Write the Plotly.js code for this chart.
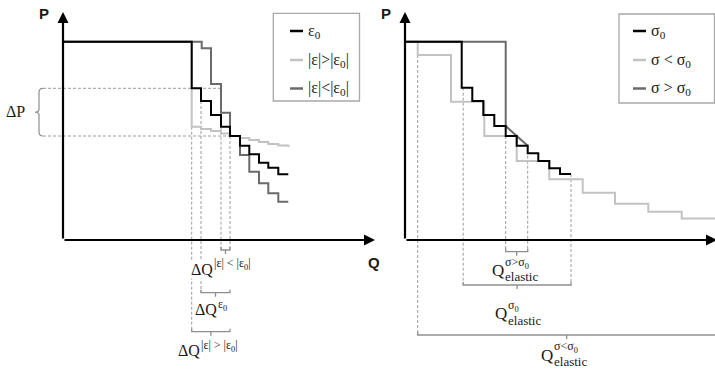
<!DOCTYPE html>
<html><head><meta charset="utf-8">
<script src="https://cdn.plot.ly/plotly-3.0.1.min.js"></script>
<style>html,body{margin:0;padding:0;background:#fff;}#chart{width:715px;height:369px;}</style>
</head><body><div id="chart"></div>
<script>
// ---------- Data (schematic units: Q along x, P along y) ----------
// Left panel: strain
const legendLeft = ['ε<sub>0</sub>', '|ε|&gt;|ε<sub>0</sub>|', '|ε|&lt;|ε<sub>0</sub>|'];
const qEps0    = [0, 128.7, 138, 148, 158, 167, 177, 186.3, 196, 205.3, 215.3, 225.3];
const pEps0    = [198.3, 151.7, 139, 125, 113.3, 104, 94.3, 85.7, 77.3, 72.3, 65.7, 65.7];
const qEpsHigh = [0, 128.7, 138, 148, 158, 167, 177, 186.3, 196, 205.3, 215.3, 225.3];
const pEpsHigh = [198.3, 113.3, 111, 109, 106.5, 104, 102, 100, 98, 96, 94.5, 93];
const qEpsLow  = [0, 138.7, 148, 158, 167, 177, 186.3, 196, 205.3, 215.3, 225.3];
const pEpsLow  = [198.3, 191.7, 156, 127.3, 104, 85, 68.3, 56.7, 46.7, 38.3, 38.3];

// Right panel: stress
const legendRight = ['σ<sub>0</sub>', 'σ &lt; σ<sub>0</sub>', 'σ &gt; σ<sub>0</sub>'];
const qSig0    = [0, 56.7, 67.3, 78.3, 89.3, 100.7, 111.7, 122.7, 133.3, 144.3, 155, 166];
const pSig0    = [198.3, 152.3, 139, 125, 114, 104, 94.3, 86.7, 79, 71.7, 66, 66];
const qSigLow  = [0, 12.7, 46, 79.3, 111.7, 144.3, 177.7, 210, 243.3, 276.7, 312];
const pSigLow  = [198.3, 185, 138.3, 104, 79, 60.7, 47.3, 36.3, 28.3, 21.5, 21.5];
const qSigHigh = [0, 100.7, 100.7, 122.7];
const pSigHigh = [198.3, 198.3, 114, 94.3];

// ---------- Styles ----------
const BLACK = '#000000', LIGHT = '#c2c2c2', DARK = '#6a6a6a';
const GUIDE = '#9c9c9c', BRACE = '#8e8e8e', BOX = '#a8a8a8';
const SERIF = 'Liberation Serif, Times New Roman, serif';
const MATH = 'Liberation Serif, serif';
const SANS = 'Liberation Sans, Arial, sans-serif';

function line(q, p, color, xa, ya, name, shape) {
  return {x: q, y: p, type: 'scatter', mode: 'lines', name: name,
    line: {color: color, width: 2, shape: shape || 'hv'},
    xaxis: xa, yaxis: ya, showlegend: false, hoverinfo: 'skip'};
}

const data = [
  line(qEpsHigh, pEpsHigh, LIGHT, 'x', 'y', '|ε|>|ε0|'),
  line(qEpsLow, pEpsLow, DARK, 'x', 'y', '|ε|<|ε0|'),
  line(qEps0, pEps0, BLACK, 'x', 'y', 'ε0'),
  line(qSigLow, pSigLow, LIGHT, 'x2', 'y2', 'σ < σ0'),
  line(qSigHigh, pSigHigh, DARK, 'x2', 'y2', 'σ > σ0', 'linear'),
  line(qSig0, pSig0, BLACK, 'x2', 'y2', 'σ0')
];

const shapes = [];
const ann = [];
function dash(xr, yr, x0, y0, x1, y1) {
  shapes.push({type: 'line', xref: xr, yref: yr, x0: x0, y0: y0, x1: x1, y1: y1,
    line: {color: GUIDE, width: 1, dash: '3px,2px'}, layer: 'below'});
}
function bracket(xr, yr, q0, q1, p, qc) {
  shapes.push({type: 'path', xref: xr, yref: yr,
    path: `M${q0},${p + 3} L${q0},${p} L${q1},${p} L${q1},${p + 3} M${qc},${p} L${qc},${p - 4}`,
    line: {color: BRACE, width: 1.3}});
}
function text(xr, yr, x, y, t, size, family, xanchor, extra) {
  ann.push(Object.assign({xref: xr, yref: yr, x: x, y: y, text: t, showarrow: false,
    xanchor: xanchor || 'center', yanchor: 'middle', borderpad: 0,
    font: {size: size, family: family, color: '#1a1a1a'}}, extra || {}));
}
function axisArrow(xr, yr, x, y) {
  ann.push({xref: xr, yref: yr, axref: xr, ayref: yr, x: x, y: y, ax: 0, ay: 0,
    text: '', showarrow: true, arrowhead: 2, arrowsize: 1, arrowwidth: 2.2,
    arrowcolor: BLACK, standoff: 0, startstandoff: 0});
}

// ---------- Left panel guides ----------
const pTop = pEps0[1], pBot = pEps0[5];
dash('x', 'y', -20, pTop, qEpsLow[3], pTop);
dash('x', 'y', -20, pBot, qEps0[5], pBot);
shapes.push({type: 'path', xref: 'x', yref: 'y',
  path: `M-20,${pTop} Q-24,${pTop} -24,${pTop - 4} L-24,${(pTop + pBot) / 2 + 3} Q-24,${(pTop + pBot) / 2} -28,${(pTop + pBot) / 2} Q-24,${(pTop + pBot) / 2} -24,${(pTop + pBot) / 2 - 3} L-24,${pBot + 4} Q-24,${pBot} -20,${pBot}`,
  line: {color: BRACE, width: 1.2}});
text('x', 'y', -48, (pTop + pBot) / 2 + 1, 'ΔP', 16, SERIF, 'center');

dash('x', 'y', qEps0[1], pEpsHigh[1], qEps0[1], -91.7);
dash('x', 'y', qEps0[2], pEps0[2], qEps0[2], -52.7);
dash('x', 'y', qEpsLow[3], pEps0[4], qEpsLow[3], -10);
dash('x', 'y', qEps0[5], pEps0[5], qEps0[5], -10);
bracket('x', 'y', qEpsLow[3], qEps0[5], -10, (qEpsLow[3] + qEps0[5]) / 2);
bracket('x', 'y', qEps0[2], qEps0[5], -52.7, (qEps0[2] + qEps0[5]) / 2);
bracket('x', 'y', qEps0[1], qEps0[5], -91.7, (qEps0[1] + qEps0[5]) / 2);

const SUP = {xshift: -1};
text('x', 'y', 151, -29, 'ΔQ', 16, MATH, 'right', {bgcolor: '#ffffff'});
text('x', 'y', 151, -24, '|ε| &lt; |ε<sub>0</sub>|', 12, MATH, 'left', SUP);
text('x', 'y', 155, -69, 'ΔQ', 16, MATH, 'right');
text('x', 'y', 155, -64.5, 'ε<sub>0</sub>', 12, MATH, 'left', SUP);
text('x', 'y', 138, -110, 'ΔQ', 16, MATH, 'right');
text('x', 'y', 138, -105.5, '|ε| &gt; |ε<sub>0</sub>|', 12, MATH, 'left', SUP);

// ---------- Right panel guides ----------
dash('x2', 'y2', qSigLow[1], pSigLow[1], qSigLow[1], -95);
dash('x2', 'y2', qSig0[1] + 1.5, pSig0[1], qSig0[1] + 1.5, -45);
dash('x2', 'y2', qSigHigh[1], pSig0[5], qSigHigh[1], -11.7);
dash('x2', 'y2', qSigHigh[3], pSig0[6], qSigHigh[3], -11.7);
dash('x2', 'y2', qSig0[11], pSig0[11], qSig0[11], -45);
bracket('x2', 'y2', qSigHigh[1], qSigHigh[3], -11.7, (qSigHigh[1] + qSigHigh[3]) / 2);
bracket('x2', 'y2', qSig0[1] + 1.5, qSig0[11], -45, (qSig0[1] + 1.5 + qSig0[11]) / 2);
bracket('x2', 'y2', qSigLow[1], 311, -95, 161.7);

text('x2', 'y2', 100, -30, 'Q', 17, MATH, 'right');
text('x2', 'y2', 100, -22.5, 'σ&gt;σ<sub>0</sub>', 12, MATH, 'left', SUP);
text('x2', 'y2', 100, -36.5, 'elastic', 13, MATH, 'left', SUP);
text('x2', 'y2', 102.5, -73, 'Q', 17, MATH, 'right');
text('x2', 'y2', 102.5, -65.5, 'σ<sub>0</sub>', 12, MATH, 'left', SUP);
text('x2', 'y2', 102.5, -80, 'elastic', 13, MATH, 'left', SUP);
text('x2', 'y2', 149, -115, 'Q', 17, MATH, 'right');
text('x2', 'y2', 149, -107, 'σ&lt;σ<sub>0</sub>', 12, MATH, 'left', SUP);
text('x2', 'y2', 149, -121, 'elastic', 13, MATH, 'left', SUP);

// ---------- Axes with arrows ----------
['x', 'x2'].forEach((xr, i) => {
  const yr = i ? 'y2' : 'y';
  axisArrow(xr, yr, 312, 0);
  axisArrow(xr, yr, 0, 228);
  text(xr, yr, -19.5, 227, '<b>P</b>', 15, SANS, 'center');
  text(xr, yr, 310.5, -22, '<b>Q</b>', 15, SANS, 'center');
});

// ---------- Legends ----------
function legend(xr, yr, box, q0, labels, colors) {
  shapes.push({type: 'rect', xref: xr, yref: yr, x0: box[0], x1: box[1], y0: box[2], y1: box[3],
    line: {color: BOX, width: 1.3}, fillcolor: '#ffffff', layer: 'below'});
  const rows = [209, 180, 151.5];
  labels.forEach((lab, k) => {
    shapes.push({type: 'line', xref: xr, yref: yr, x0: q0, x1: q0 + 13, y0: rows[k], y1: rows[k],
      line: {color: colors[k], width: 2.5}});
    text(xr, yr, q0 + 17, rows[k], lab, 16, SERIF, 'left');
  });
}
legend('x', 'y', [210.3, 296.5, 139, 226.7], 227, legendLeft, [BLACK, LIGHT, DARK]);
legend('x2', 'y2', [214, 309.5, 137, 226], 228, legendRight, [BLACK, LIGHT, DARK]);

const hidden = {visible: false, fixedrange: true, showgrid: false, zeroline: false};
const layout = {
  width: 715, height: 369, margin: {l: 0, r: 0, t: 0, b: 0, pad: 0},
  paper_bgcolor: '#ffffff', plot_bgcolor: 'rgba(0,0,0,0)',
  font: {family: SERIF, color: '#1a1a1a'},
  xaxis: Object.assign({domain: [0, 1], range: [-63, 652], anchor: 'y'}, hidden),
  yaxis: Object.assign({domain: [0, 1], range: [-129, 240], anchor: 'x'}, hidden),
  xaxis2: Object.assign({domain: [0, 1], range: [-405, 310], anchor: 'y2'}, hidden),
  yaxis2: Object.assign({domain: [0, 1], range: [-129, 240], anchor: 'x2'}, hidden),
  shapes: shapes, annotations: ann, showlegend: false
};
Plotly.newPlot('chart', data, layout, {staticPlot: true, displayModeBar: false});
</script></body></html>
